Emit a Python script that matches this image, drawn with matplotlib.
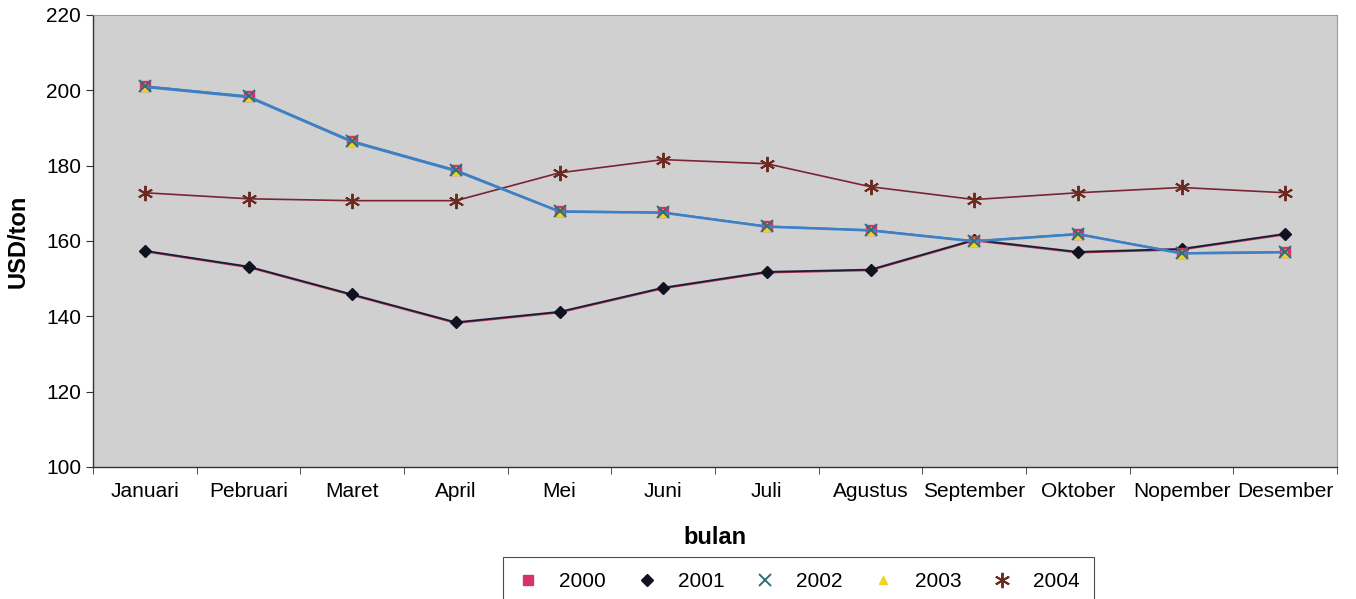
import matplotlib.pyplot as plt
import numpy as np

# data (USD/ton per month)
bulan = ["Januari", "Pebruari", "Maret", "April", "Mei", "Juni", "Juli",
         "Agustus", "September", "Oktober", "Nopember", "Desember"]
harga_2000 = [201.1, 198.4, 186.5, 178.8, 167.9, 167.6, 163.9, 162.9, 160.0, 161.9, 156.8, 157.1]
harga_2001 = [157.4, 153.2, 145.8, 138.4, 141.2, 147.6, 151.8, 152.4, 160.3, 157.1, 157.9, 161.9]
harga_2002 = [201.1, 198.4, 186.5, 178.8, 167.9, 167.6, 163.9, 162.9, 160.0, 161.9, 156.8, 157.1]
harga_2003 = [200.8, 198.1, 186.2, 178.5, 167.7, 167.4, 163.7, 162.7, 159.8, 161.7, 156.6, 156.9]
harga_2004 = [172.8, 171.2, 170.7, 170.7, 178.1, 181.6, 180.5, 174.4, 171.0, 172.8, 174.2, 172.8]

plt.rcParams['font.family'] = ['Liberation Sans', 'DejaVu Sans']

fig = plt.figure(figsize=(13.56, 5.99), dpi=100)
ax = fig.add_axes([0.0686, 0.2204, 0.9174, 0.7546])
ax.set_facecolor('#d0d0d0')

x = np.arange(len(bulan))

# 2001 line has a faint reddish fringe in the print
ax.plot(x, np.array(harga_2001) - 0.25, color='#b03050', lw=1.0, zorder=2)
ax.plot(x, harga_2001, color='#1c1c34', lw=1.3, marker='D', ms=6,
        mfc='#111122', mec='#111122', label='2001', zorder=3)
ax.plot(x, harga_2004, color='#7a2434', lw=1.2, marker=(6, 2, 0), ms=11,
        mec='#6b2a20', mew=1.4, label='2004', zorder=3)
ax.plot(x, harga_2000, color='#3f7fc4', lw=1.3, marker='s', ms=7,
        mfc='#d6336c', mec='#d6336c', label='2000', zorder=3)
ax.plot(x, harga_2003, color='#3f7fc4', lw=1.3, marker='^', ms=6,
        mfc='#f2d21a', mec='#f2d21a', label='2003', zorder=4)
ax.plot(x, harga_2002, color='#3f7fc4', lw=1.3, marker='x', ms=8,
        mec='#2a6f78', mew=1.4, label='2002', zorder=5)

ax.set_xlim(-0.5, len(bulan) - 0.5)
ax.set_ylim(100, 220)
ax.set_yticks(np.arange(100, 221, 20))
ax.set_xticks(x)
ax.set_xticklabels(bulan, fontsize=15)
ax.tick_params(axis='x', which='major', length=0, pad=11)
ax.set_xticks(np.arange(-0.5, len(bulan), 1), minor=True)
ax.tick_params(axis='x', which='minor', length=5, direction='out', color='#333333')
ax.tick_params(axis='y', labelsize=15, length=5, direction='out', color='#333333')

for s in ['top', 'right']:
    ax.spines[s].set_color('#9a9a9a')
    ax.spines[s].set_linewidth(0.8)
for s in ['left', 'bottom']:
    ax.spines[s].set_color('#333333')
    ax.spines[s].set_linewidth(1.0)

ax.set_ylabel('USD/ton', fontsize=17, fontweight='bold', labelpad=12)
ax.set_xlabel('bulan', fontsize=17, fontweight='bold', labelpad=18)

handles, labels = ax.get_legend_handles_labels()
order = [labels.index(k) for k in ['2000', '2001', '2002', '2003', '2004']]
leg = fig.legend([handles[i] for i in order], [labels[i] for i in order],
                 loc='upper center', bbox_to_anchor=(0.589, 0.087), ncol=5,
                 fontsize=15, frameon=True, fancybox=False, edgecolor='#222222',
                 handlelength=1.0, handletextpad=1.0, columnspacing=1.45,
                 borderpad=0.7)
leg.get_frame().set_linewidth(0.8)
for h in leg.legend_handles:
    h.set_linestyle('None')

fig.savefig('out.png', dpi=100, facecolor='white')
